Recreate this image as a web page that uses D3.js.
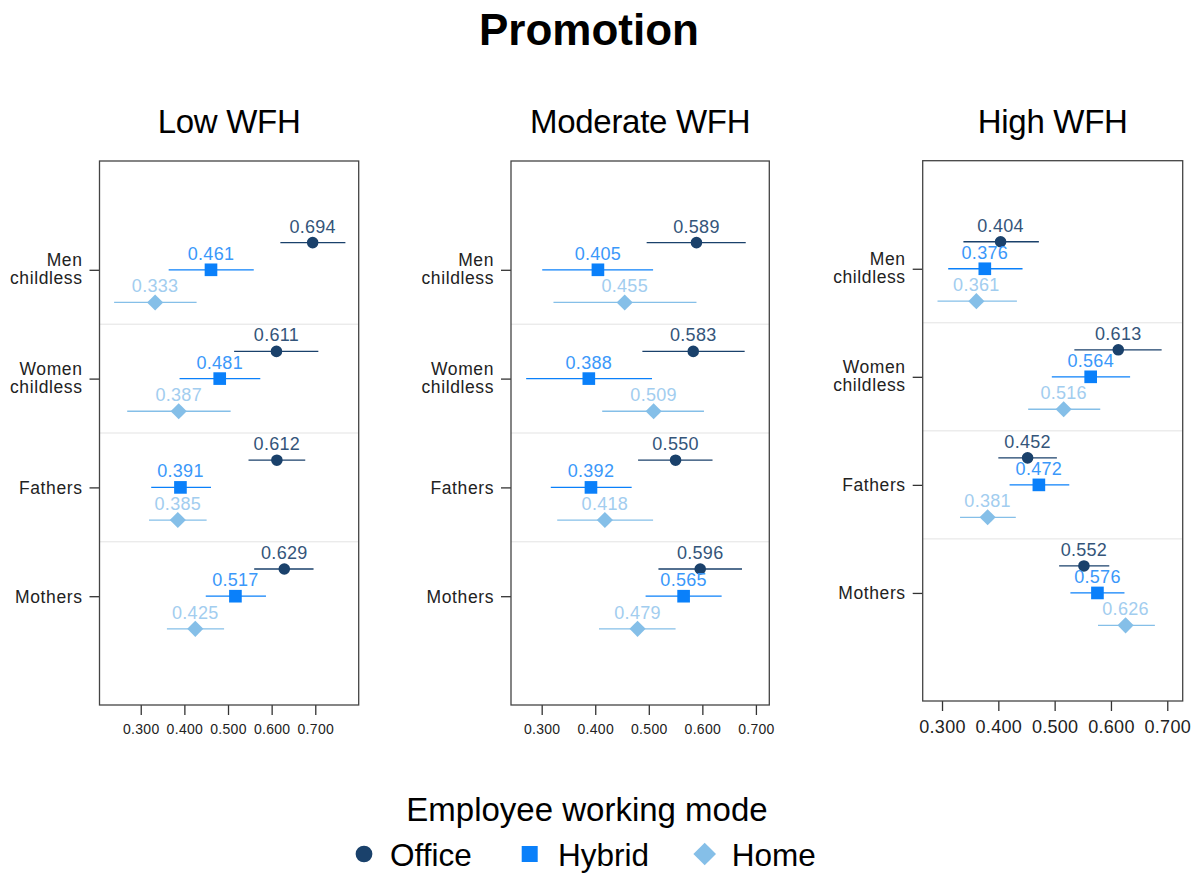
<!DOCTYPE html>
<html>
<head>
<meta charset="utf-8">
<script src="https://cdn.jsdelivr.net/npm/d3@7"></script>
<style>
  html, body { margin: 0; padding: 0; background: #fff; }
  svg { display: block; font-family: "Liberation Sans", Arial, sans-serif; }
</style>
</head>
<body>
<svg id="chart" width="1200" height="875"></svg>
<script>
// ---------------- DATA ----------------
const chartTitle = "Promotion";
const panelTitles = ["Low WFH", "Moderate WFH", "High WFH"];
const groups = [["Men", "childless"], ["Women", "childless"], ["Fathers"], ["Mothers"]];
const modes = ["Office", "Hybrid", "Home"];
const tickValues = [0.3, 0.4, 0.5, 0.6, 0.7];
const legendTitle = "Employee working mode";

// estimates [panel][group]
const officeEst = [[0.694, 0.611, 0.612, 0.629], [0.589, 0.583, 0.550, 0.596], [0.404, 0.613, 0.452, 0.552]];
const hybridEst = [[0.461, 0.481, 0.391, 0.517], [0.405, 0.388, 0.392, 0.565], [0.376, 0.564, 0.472, 0.576]];
const homeEst   = [[0.333, 0.387, 0.385, 0.425], [0.455, 0.509, 0.418, 0.479], [0.361, 0.516, 0.381, 0.626]];

// confidence intervals [panel][group] = [low, high]
const officeCI = [
  [[0.620, 0.769], [0.514, 0.707], [0.547, 0.677], [0.560, 0.696]],
  [[0.496, 0.681], [0.488, 0.679], [0.480, 0.619], [0.518, 0.674]],
  [[0.338, 0.472], [0.535, 0.690], [0.400, 0.504], [0.508, 0.597]]
];
const hybridCI = [
  [[0.364, 0.559], [0.389, 0.574], [0.324, 0.461], [0.449, 0.587]],
  [[0.301, 0.508], [0.271, 0.506], [0.317, 0.468], [0.494, 0.636]],
  [[0.311, 0.443], [0.495, 0.634], [0.420, 0.526], [0.528, 0.624]]
];
const homeCI = [
  [[0.239, 0.428], [0.269, 0.506], [0.319, 0.451], [0.360, 0.491]],
  [[0.322, 0.589], [0.413, 0.603], [0.329, 0.508], [0.407, 0.550]],
  [[0.292, 0.433], [0.453, 0.581], [0.332, 0.431], [0.577, 0.678]]
];

// ---------------- STYLE / LAYOUT ----------------
const FONT = "'Liberation Sans', Arial, sans-serif";
const modeStyle = {
  Office: { color: "#1a416b", text: "#34557a", shape: d3.symbolCircle, size: 105, rot: 0, offset: -0.25 },
  Hybrid: { color: "#0a80fa", text: "#3a98fa", shape: d3.symbolSquare, size: 160, rot: 0, offset: 0 },
  Home:   { color: "#85bfe8", text: "#a2cdef", shape: d3.symbolSquare, size: 130, rot: 45, offset: 0.30 }
};
const estBy = { Office: officeEst, Hybrid: hybridEst, Home: homeEst };
const ciBy = { Office: officeCI, Hybrid: hybridCI, Home: homeCI };

const panelLayout = [
  { left: 99.5, right: 358.7, top: 161, bottom: 705, domain: [0.2055, 0.7995], tickFont: 14, tickBase: 29 },
  { left: 511, right: 769.3, top: 161, bottom: 705, domain: [0.2427, 0.725], tickFont: 14, tickBase: 29 },
  { left: 922.7, right: 1182.7, top: 160.7, bottom: 701, domain: [0.2657, 0.7274], tickFont: 18, tickBase: 32 }
];

const svg = d3.select("#chart");

svg.append("text")
  .attr("x", 589).attr("y", 45)
  .attr("text-anchor", "middle")
  .style("font-family", FONT).style("font-weight", "bold").style("font-size", "44px")
  .attr("fill", "#000")
  .text(chartTitle);

panelLayout.forEach((L, p) => {
  const g = svg.append("g");
  const x = d3.scaleLinear().domain(L.domain).range([L.left, L.right]);
  const y = d3.scaleLinear().domain([0, 5]).range([L.top, L.bottom]);

  // panel title
  g.append("text")
    .attr("x", (L.left + L.right) / 2).attr("y", 133)
    .attr("text-anchor", "middle")
    .style("font-family", FONT).style("font-size", "33px")
    .style("letter-spacing", "-0.3px")
    .attr("fill", "#000")
    .text(panelTitles[p]);

  // separators
  [1.5, 2.5, 3.5].forEach(v => {
    g.append("line")
      .attr("x1", L.left).attr("x2", L.right)
      .attr("y1", y(v)).attr("y2", y(v))
      .attr("stroke", "#e3e3e3").attr("stroke-width", 1);
  });

  // x axis
  const xAxis = d3.axisBottom(x).tickValues(tickValues).tickFormat(d3.format(".3f")).tickSize(10).tickSizeOuter(0);
  const xg = g.append("g").attr("transform", `translate(0,${L.bottom})`).call(xAxis);
  xg.select(".domain").remove();
  xg.selectAll(".tick line").attr("stroke", "#333").attr("stroke-width", 1.3);
  xg.selectAll(".tick text")
    .attr("y", L.tickBase).attr("dy", 0)
    .style("font-family", FONT).style("font-size", L.tickFont + "px")
    .style("letter-spacing", "0.3px")
    .attr("fill", "#222");

  // y axis ticks
  const yAxis = d3.axisLeft(y).tickValues([1, 2, 3, 4]).tickFormat("").tickSize(10).tickSizeOuter(0);
  const yg = g.append("g").attr("transform", `translate(${L.left},0)`).call(yAxis);
  yg.select(".domain").remove();
  yg.selectAll(".tick line").attr("stroke", "#333").attr("stroke-width", 1.3);

  // y labels
  groups.forEach((lines, gi) => {
    const yy = y(gi + 1);
    const t = g.append("text")
      .attr("text-anchor", "end")
      .style("font-family", FONT).style("font-size", "17.5px")
      .style("letter-spacing", "0.6px")
      .attr("fill", "#222");
    if (lines.length === 1) {
      t.append("tspan").attr("x", L.left - 17).attr("y", yy + 6.5).text(lines[0]);
    } else {
      t.append("tspan").attr("x", L.left - 17).attr("y", yy - 4).text(lines[0]);
      t.append("tspan").attr("x", L.left - 17).attr("y", yy + 14).text(lines[1]);
    }
  });

  // frame
  g.append("rect")
    .attr("x", L.left).attr("y", L.top)
    .attr("width", L.right - L.left).attr("height", L.bottom - L.top)
    .attr("fill", "none").attr("stroke", "#444").attr("stroke-width", 1.3);

  // marks
  modes.forEach(m => {
    const st = modeStyle[m];
    groups.forEach((_, gi) => {
      const yy = y(gi + 1 + st.offset);
      const ci = ciBy[m][p][gi];
      const est = estBy[m][p][gi];
      g.append("line")
        .attr("x1", x(ci[0])).attr("x2", x(ci[1]))
        .attr("y1", yy).attr("y2", yy)
        .attr("stroke", st.color).attr("stroke-width", 1.3);
      g.append("path")
        .attr("d", d3.symbol().type(st.shape).size(st.size)())
        .attr("transform", `translate(${x(est)},${yy}) rotate(${st.rot})`)
        .attr("fill", st.color);
      g.append("text")
        .attr("x", x(est)).attr("y", yy - 10)
        .attr("text-anchor", "middle")
        .style("font-family", FONT).style("font-size", "18px")
        .style("letter-spacing", "0.3px")
        .attr("fill", st.text)
        .text(d3.format(".3f")(est));
    });
  });
});

// legend
svg.append("text")
  .attr("x", 587).attr("y", 821)
  .attr("text-anchor", "middle")
  .style("font-family", FONT).style("font-size", "33px")
  .attr("fill", "#000")
  .text(legendTitle);

const legendPos = [
  { sx: 364, tx: 390 },
  { sx: 529.7, tx: 558 },
  { sx: 704.7, tx: 731.7 }
];
const legendSizes = { Office: 220, Hybrid: 256, Home: 256 };
modes.forEach((m, i) => {
  const st = modeStyle[m];
  svg.append("path")
    .attr("d", d3.symbol().type(st.shape).size(legendSizes[m])())
    .attr("transform", `translate(${legendPos[i].sx},854) rotate(${st.rot})`)
    .attr("fill", st.color);
  svg.append("text")
    .attr("x", legendPos[i].tx).attr("y", 866)
    .style("font-family", FONT).style("font-size", "31.5px")
    .attr("fill", "#000")
    .text(m);
});
</script>
</body>
</html>
